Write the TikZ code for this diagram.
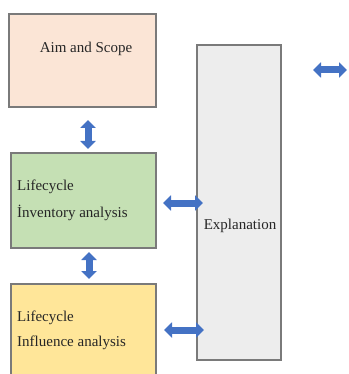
\documentclass[tikz,border=0pt]{standalone}
\usepackage{fontspec}
\setmainfont{Liberation Serif}
\usetikzlibrary{arrows.meta}
\definecolor{aimfill}{HTML}{FBE5D6}
\definecolor{invfill}{HTML}{C5E0B4}
\definecolor{inffill}{HTML}{FFE699}
\definecolor{expfill}{HTML}{EDEDED}
\definecolor{boxline}{HTML}{7A7A7A}
\definecolor{arrowblue}{HTML}{4472C4}
\definecolor{txt}{HTML}{262626}
\tikzset{
  box/.style={draw=boxline, line width=1.5pt},
  lbl/.style={font=\fontsize{15}{17}\selectfont, text=txt, inner sep=0pt},
  biarrow/.style={draw=arrowblue, line width=7pt,
    {Triangle[width=15pt,length=8pt]}-{Triangle[width=15pt,length=8pt]}},
}
\begin{document}
\begin{tikzpicture}[x=1pt,y=-1pt]
\useasboundingbox (0,0) rectangle (348,374);
% boxes
\filldraw[box, fill=aimfill] (9,14) rectangle (156,107);
\filldraw[box, fill=invfill] (11,153) rectangle (156,248);
\fill[inffill] (11,284) rectangle (156,376);
\draw[box] (11,376) -- (11,284) -- (156,284) -- (156,376);
\filldraw[box, fill=expfill] (197,45) rectangle (281,360);
% labels
\node[lbl] (aim) at (86,49) {Aim and Scope};
\node[lbl, anchor=west] (inv1) at (17,187) {Lifecycle};
\node[lbl, anchor=west] (inv2) at (17,213) {İnventory analysis};
\node[lbl, anchor=west] (inf1) at (17,318) {Lifecycle};
\node[lbl, anchor=west] (inf2) at (17,343) {Influence analysis};
\node[lbl] (exp) at (240,226) {Explanation};
% arrow end points
\coordinate (a1t) at (88,120);
\coordinate (a1b) at (88,149);
\coordinate (a2t) at (89,252);
\coordinate (a2b) at (89,279);
\coordinate (g1) at (163,203);
\coordinate (g2) at (203,203);
\coordinate (y1) at (164,330);
\coordinate (y2) at (204,330);
\coordinate (r1) at (313,70);
\coordinate (r2) at (347,70);
\draw[biarrow] (a1t) -- (a1b);
\draw[biarrow] (a2t) -- (a2b);
\draw[biarrow] (g1) -- (g2);
\draw[biarrow] (y1) -- (y2);
\draw[biarrow] (r1) -- (r2);
\end{tikzpicture}
\end{document}
